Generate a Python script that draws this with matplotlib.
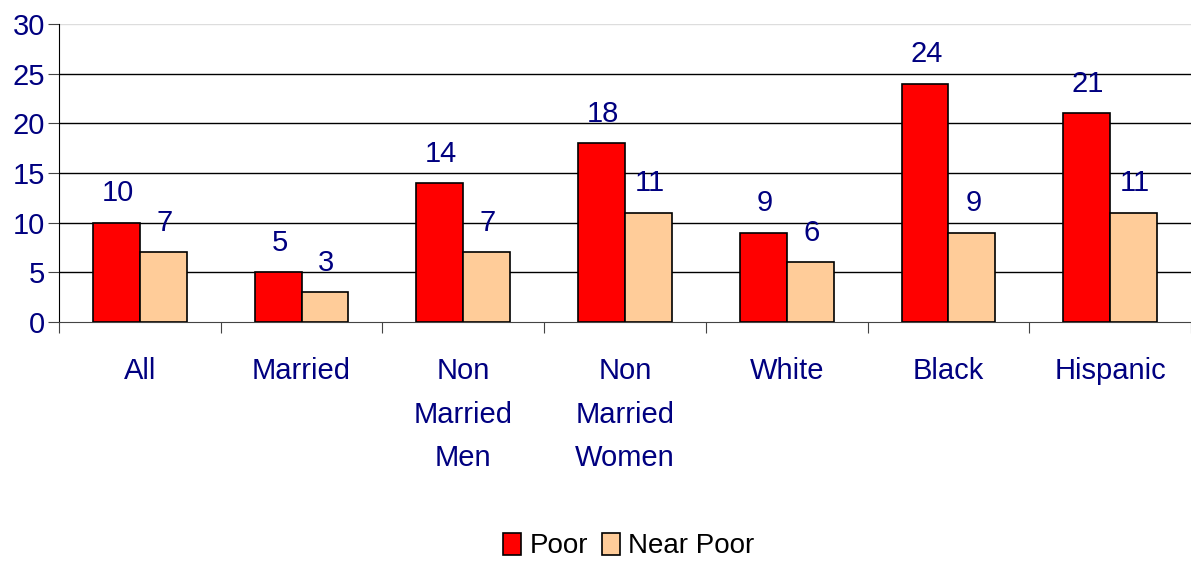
import numpy as np
import matplotlib.pyplot as plt

plt.rcParams['font.family'] = ['Liberation Sans', 'DejaVu Sans']

categories = ["All", "Married", "Non\nMarried\nMen", "Non\nMarried\nWomen", "White", "Black", "Hispanic"]
poor = [10, 5, 14, 18, 9, 24, 21]
near_poor = [7, 3, 7, 11, 6, 9, 11]

navy = "#000080"
fs = 21

fig = plt.figure(figsize=(11.91, 5.64), dpi=100)
ax = fig.add_axes([59 / 1191, 1 - 322 / 564, 1 - 59 / 1191, (322 - 24) / 564])

x = np.arange(len(categories))
w = 0.29
b1 = ax.bar(x - w / 2, poor, w, color="#ff0000", edgecolor="black", linewidth=1.2, label="Poor", zorder=3)
b2 = ax.bar(x + w / 2, near_poor, w, color="#ffcc99", edgecolor="black", linewidth=1.2, label="Near Poor", zorder=3)

for bars in (b1, b2):
    for r in bars:
        ax.annotate(str(int(r.get_height())), (r.get_x() + r.get_width() / 2, r.get_height()),
                    xytext=(1, 11), textcoords="offset points", ha="center", va="bottom",
                    fontsize=fs, color=navy)

ax.set_xlim(-0.5, len(categories) - 0.5)
ax.set_ylim(0, 30)
ax.set_yticks(range(0, 31, 5))
for y in range(5, 30, 5):
    ax.axhline(y, color="black", linewidth=1, zorder=1)
ax.axhline(30, color="#dddddd", linewidth=1, zorder=1)

ax.set_xticks(np.arange(-0.5, len(categories), 1.0))
ax.set_xticklabels([])
ax.set_xticks(x, minor=True)
ax.set_xticklabels(categories, minor=True, fontsize=fs, color=navy, linespacing=1.72, va="top")
ax.tick_params(axis="x", which="major", length=8, direction="out", color="#444444")
ax.tick_params(axis="x", which="minor", length=0, pad=25)
ax.tick_params(axis="y", length=8, direction="out", labelsize=fs, labelcolor=navy, color="#444444", pad=2)

for s in ("top", "right"):
    ax.spines[s].set_visible(False)
ax.spines["left"].set_color("black")
ax.spines["bottom"].set_color("#444444")

fig.legend(handles=[b1, b2], loc="center", bbox_to_anchor=(0.528, 1 - 546 / 564), ncol=2, frameon=False,
           fontsize=20, handlelength=0.65, handleheight=0.85, handletextpad=0.3, columnspacing=0.5)

fig.savefig("out.png", dpi=100)
